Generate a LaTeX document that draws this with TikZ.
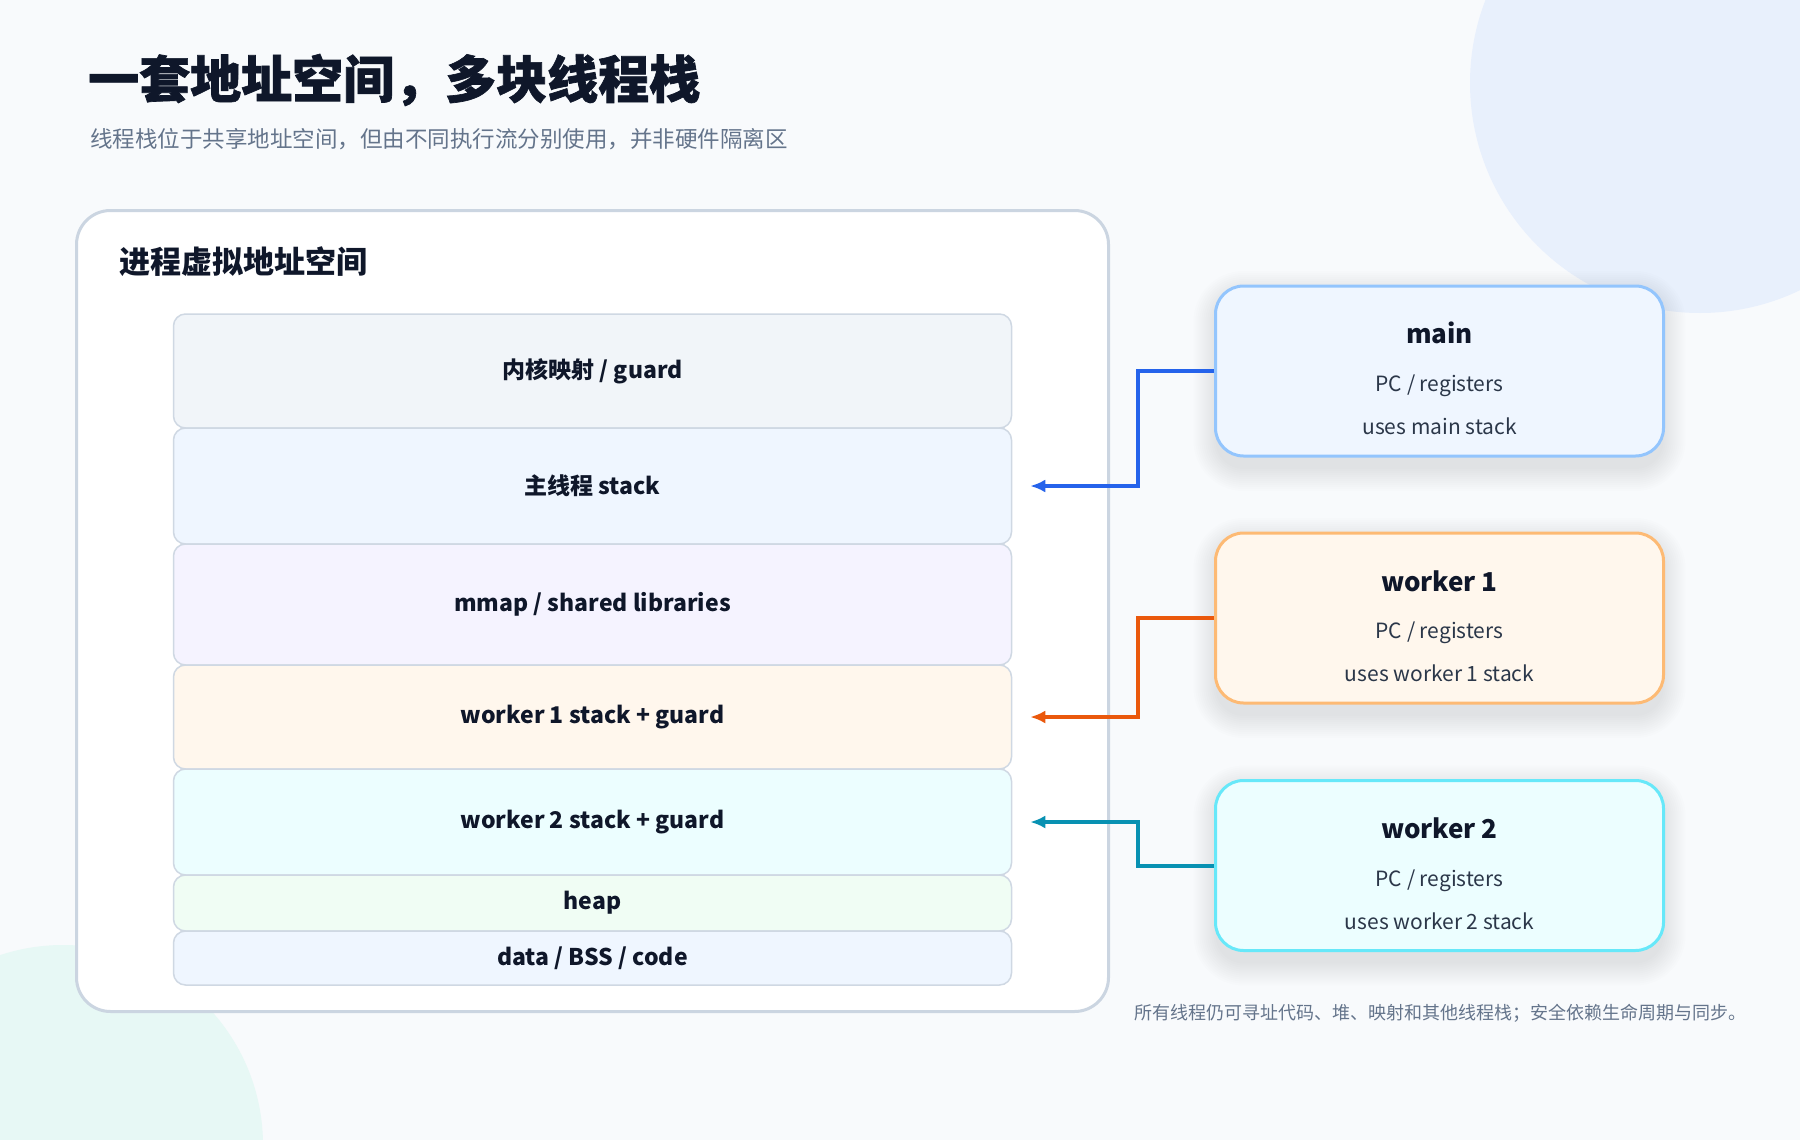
\documentclass[tikz,border=0pt]{standalone}
\usepackage{fontspec}
\setmainfont{Noto Sans CJK SC}
\newfontfamily\heavyfont[BoldFeatures={FakeBold=1.3}]{Noto Sans CJK SC}
\usetikzlibrary{arrows.meta,calc}
\definecolor{bg}{HTML}{F8FAFC}
\definecolor{ink}{HTML}{0F172A}
\definecolor{sub}{HTML}{64748B}
\definecolor{body}{HTML}{2B3749}
\definecolor{panelline}{HTML}{CBD5E1}
\definecolor{layerline}{HTML}{CFD8E3}
\definecolor{decoblue}{HTML}{E8F0FC}
\definecolor{decoteal}{HTML}{E7F8F5}
\definecolor{fA}{HTML}{F1F5F9}
\definecolor{fB}{HTML}{EFF6FF}
\definecolor{fC}{HTML}{F5F3FF}
\definecolor{fD}{HTML}{FFF7ED}
\definecolor{fE}{HTML}{ECFEFF}
\definecolor{fF}{HTML}{F0FDF4}
\definecolor{mainline}{HTML}{93C5FD}
\definecolor{wAline}{HTML}{FDBA74}
\definecolor{wBline}{HTML}{67E8F9}
\definecolor{mainconn}{HTML}{2563EB}
\definecolor{wAconn}{HTML}{EA580C}
\definecolor{wBconn}{HTML}{0891B2}
\newcommand\softshadow[2]{%
  \foreach \i in {0,2,...,22}{%
    \pgfmathsetmacro\rr{28+\i}%
    \fill[black, opacity=0.008, rounded corners=\rr pt]
      (#1-224-\i, #2-78-\i) rectangle (#1+224+\i, #2+98+\i);}}
\begin{document}
\begin{tikzpicture}[x=1pt,y=-1pt,
  panelbox/.style={draw=panelline, line width=3pt, fill=white, rounded corners=34pt,
    minimum width=1032pt, minimum height=801pt, inner sep=0pt},
  layer/.style={draw=layerline, line width=1.5pt, rounded corners=12pt,
    minimum width=838pt, inner sep=0pt, text=ink,
    font=\fontsize{23}{28}\selectfont\bfseries},
  thread/.style={line width=3pt, rounded corners=28pt, minimum width=448pt,
    minimum height=170pt, inner sep=0pt},
  ttitle/.style={inner sep=0pt, text=ink, font=\fontsize{26}{30}\selectfont\bfseries},
  tline/.style={inner sep=0pt, text=body, font=\fontsize{21}{25}\selectfont},
  conn/.style={line width=4pt, -{Latex[length=15pt,width=13pt]}},
]
\useasboundingbox (0,0) rectangle (1800,1140);
\fill[bg] (0,0) rectangle (1800,1140);
\begin{scope}
  \clip (0,0) rectangle (1800,1140);
  \fill[decoblue] (1700,83) circle [radius=230pt];
  \fill[decoteal] (63,1145) circle [radius=200pt];
\end{scope}

% title
\node[anchor=west, inner sep=0pt, text=ink, font=\fontsize{51}{58}\selectfont\heavyfont\bfseries] (title) at (88,80) {一套地址空间，多块线程栈};
\node[anchor=west, inner sep=0pt, text=sub, font=\fontsize{22.5}{27}\selectfont] (subtitle) at (90,139) {线程栈位于共享地址空间，但由不同执行流分别使用，并非硬件隔离区};

% panel
\node[panelbox] (panel) at (592.5,611) {};
\node[anchor=west, inner sep=0pt, text=ink, font=\fontsize{31}{36}\selectfont\bfseries] (ptitle) at (119,262) {进程虚拟地址空间};

% layers
\node[layer, fill=fA, minimum height=114pt] (L1) at (592.5,371) {内核映射 / guard};
\node[layer, fill=fB, minimum height=116pt] (L2) at (592.5,486) {主线程 stack};
\node[layer, fill=fC, minimum height=121pt] (L3) at (592.5,604.5) {mmap / shared libraries};
\node[layer, fill=fD, minimum height=104pt] (L4) at (592.5,717) {worker 1 stack + guard};
\node[layer, fill=fE, minimum height=106pt] (L5) at (592.5,822) {worker 2 stack + guard};
\node[layer, fill=fF, minimum height=56pt] (L6) at (592.5,903) {heap};
\node[layer, fill=fB, minimum height=54pt] (L7) at (592.5,958) {data / BSS / code};

% thread boxes
\softshadow{1439.5}{371}
\node[thread, draw=mainline, fill=fB] (tmain) at (1439.5,371) {};
\node[ttitle] (tmainT) at (1439.5,333) {main};
\node[tline] (tmainA) at (1439.5,386) {PC / registers};
\node[tline] (tmainB) at (1439.5,426) {uses main stack};

\softshadow{1439.5}{618}
\node[thread, draw=wAline, fill=fD] (twA) at (1439.5,618) {};
\node[ttitle] (twAT) at (1439.5,581) {worker 1};
\node[tline] (twAA) at (1439.5,633) {PC / registers};
\node[tline] (twAB) at (1439.5,673) {uses worker 1 stack};

\softshadow{1439.5}{865.5}
\node[thread, draw=wBline, fill=fE] (twB) at (1439.5,865.5) {};
\node[ttitle] (twBT) at (1439.5,828) {worker 2};
\node[tline] (twBA) at (1439.5,881) {PC / registers};
\node[tline] (twBB) at (1439.5,921) {uses worker 2 stack};

% connectors
\draw[conn, mainconn] (tmain.west) -- ++(-76,0) |- ([xshift=18pt]L2.east);
\draw[conn, wAconn] (twA.west) -- ++(-76,0) |- ([xshift=18pt]L4.east);
\draw[conn, wBconn] (twB.west) -- ++(-76,0) |- ([xshift=18pt]L5.east);

% footnote
\node[anchor=west, inner sep=0pt, text=sub, font=\fontsize{18}{21}\selectfont] (foot) at (1134,1013) {所有线程仍可寻址代码、堆、映射和其他线程栈；安全依赖生命周期与同步。};
\end{tikzpicture}
\end{document}
